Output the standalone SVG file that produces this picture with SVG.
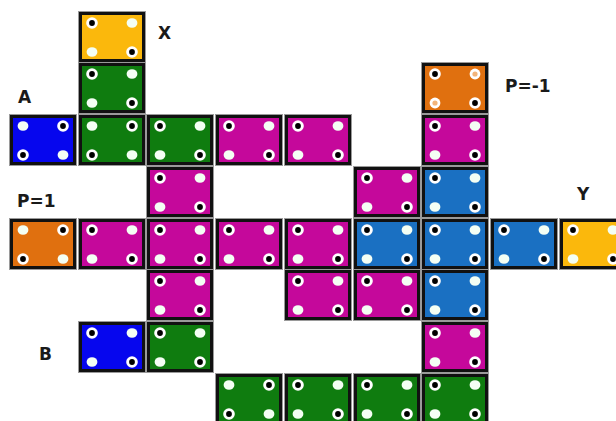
<svg xmlns="http://www.w3.org/2000/svg" xmlns:xlink="http://www.w3.org/1999/xlink" width="616" height="421" viewBox="0 0 616 421">
<style>
.t{stroke:#111;stroke-width:3}
.o{fill:none;stroke:#9a9a9a;stroke-width:1}
.yel{fill:#fbb80c}.grn{fill:#0f7c0f}.blu{fill:#0606ee}.mag{fill:#c5089b}.org{fill:#e0700f}.stl{fill:#1a70c2}
.lbl{font-family:"DejaVu Sans","Liberation Sans",sans-serif;font-weight:bold;font-size:17px;fill:#1a1a1a}
</style>
<defs>
<ellipse id="w" rx="5.4" ry="4.8" fill="#f4fff4"/>
<g id="r"><circle r="5.8" fill="#fff"/><circle r="2.9" fill="#000"/></g>
<g id="p"><circle r="5.4" fill="#fff"/><circle r="2.6" fill="#f2b47a"/></g>
<g id="box"><rect x="-0.5" y="-0.5" width="67" height="51" class="o"/></g>
<g id="D"><use xlink:href="#r" x="13" y="11"/><use xlink:href="#w" x="53" y="11"/><use xlink:href="#w" x="13" y="40"/><use xlink:href="#r" x="53" y="40"/></g>
<g id="A"><use xlink:href="#w" x="13" y="11"/><use xlink:href="#r" x="53" y="11"/><use xlink:href="#r" x="13" y="40"/><use xlink:href="#w" x="53" y="40"/></g>
<g id="O"><use xlink:href="#r" x="13" y="11"/><use xlink:href="#p" x="53" y="11"/><use xlink:href="#p" x="13" y="40"/><use xlink:href="#r" x="53" y="40"/></g>
</defs>
<rect width="616" height="421" fill="#fff"/>
<g id="connectors"></g>
<!-- row 0 -->
<g id="tX" transform="translate(79,12)"><use xlink:href="#box"/><rect x="1.5" y="1.5" width="63" height="47" class="t yel"/><use xlink:href="#D"/></g>
<!-- row 1 -->
<g id="t1_2" transform="translate(79,63)"><use xlink:href="#box"/><rect x="1.5" y="1.5" width="63" height="47" class="t grn"/><use xlink:href="#D"/></g>
<g id="tPm1" transform="translate(422,63)"><use xlink:href="#box"/><rect x="1.5" y="1.5" width="63" height="47" class="t org"/><use xlink:href="#O"/></g>
<!-- row 2 -->
<g id="tA" transform="translate(10,115)"><use xlink:href="#box"/><rect x="1.5" y="1.5" width="63" height="47" class="t blu"/><use xlink:href="#A"/></g>
<g id="t2_2" transform="translate(79,115)"><use xlink:href="#box"/><rect x="1.5" y="1.5" width="63" height="47" class="t grn"/><use xlink:href="#A"/></g>
<g id="t2_3" transform="translate(147,115)"><use xlink:href="#box"/><rect x="1.5" y="1.5" width="63" height="47" class="t grn"/><use xlink:href="#D"/></g>
<g id="t2_4" transform="translate(216,115)"><use xlink:href="#box"/><rect x="1.5" y="1.5" width="63" height="47" class="t mag"/><use xlink:href="#D"/></g>
<g id="t2_5" transform="translate(285,115)"><use xlink:href="#box"/><rect x="1.5" y="1.5" width="63" height="47" class="t mag"/><use xlink:href="#D"/></g>
<g id="t2_7" transform="translate(422,115)"><use xlink:href="#box"/><rect x="1.5" y="1.5" width="63" height="47" class="t mag"/><use xlink:href="#D"/></g>
<!-- row 3 -->
<g id="t3_3" transform="translate(147,167)"><use xlink:href="#box"/><rect x="1.5" y="1.5" width="63" height="47" class="t mag"/><use xlink:href="#D"/></g>
<g id="t3_6" transform="translate(354,167)"><use xlink:href="#box"/><rect x="1.5" y="1.5" width="63" height="47" class="t mag"/><use xlink:href="#D"/></g>
<g id="t3_7" transform="translate(422,167)"><use xlink:href="#box"/><rect x="1.5" y="1.5" width="63" height="47" class="t stl"/><use xlink:href="#D"/></g>
<!-- row 4 -->
<g id="tP1" transform="translate(10,219)"><use xlink:href="#box"/><rect x="1.5" y="1.5" width="63" height="47" class="t org"/><use xlink:href="#A"/></g>
<g id="t4_2" transform="translate(79,219)"><use xlink:href="#box"/><rect x="1.5" y="1.5" width="63" height="47" class="t mag"/><use xlink:href="#D"/></g>
<g id="t4_3" transform="translate(147,219)"><use xlink:href="#box"/><rect x="1.5" y="1.5" width="63" height="47" class="t mag"/><use xlink:href="#D"/></g>
<g id="t4_4" transform="translate(216,219)"><use xlink:href="#box"/><rect x="1.5" y="1.5" width="63" height="47" class="t mag"/><use xlink:href="#D"/></g>
<g id="t4_5" transform="translate(285,219)"><use xlink:href="#box"/><rect x="1.5" y="1.5" width="63" height="47" class="t mag"/><use xlink:href="#D"/></g>
<g id="t4_6" transform="translate(354,219)"><use xlink:href="#box"/><rect x="1.5" y="1.5" width="63" height="47" class="t stl"/><use xlink:href="#D"/></g>
<g id="t4_7" transform="translate(422,219)"><use xlink:href="#box"/><rect x="1.5" y="1.5" width="63" height="47" class="t stl"/><use xlink:href="#D"/></g>
<g id="t4_8" transform="translate(491,219)"><use xlink:href="#box"/><rect x="1.5" y="1.5" width="63" height="47" class="t stl"/><use xlink:href="#D"/></g>
<g id="tY" transform="translate(560,219)"><use xlink:href="#box"/><rect x="1.5" y="1.5" width="63" height="47" class="t yel"/><use xlink:href="#D"/></g>
<!-- row 5 -->
<g id="t5_3" transform="translate(147,270)"><use xlink:href="#box"/><rect x="1.5" y="1.5" width="63" height="47" class="t mag"/><use xlink:href="#D"/></g>
<g id="t5_5" transform="translate(285,270)"><use xlink:href="#box"/><rect x="1.5" y="1.5" width="63" height="47" class="t mag"/><use xlink:href="#D"/></g>
<g id="t5_6" transform="translate(354,270)"><use xlink:href="#box"/><rect x="1.5" y="1.5" width="63" height="47" class="t mag"/><use xlink:href="#D"/></g>
<g id="t5_7" transform="translate(422,270)"><use xlink:href="#box"/><rect x="1.5" y="1.5" width="63" height="47" class="t stl"/><use xlink:href="#D"/></g>
<!-- row 6 -->
<g id="tB" transform="translate(79,322)"><use xlink:href="#box"/><rect x="1.5" y="1.5" width="63" height="47" class="t blu"/><use xlink:href="#D"/></g>
<g id="t6_3" transform="translate(147,322)"><use xlink:href="#box"/><rect x="1.5" y="1.5" width="63" height="47" class="t grn"/><use xlink:href="#D"/></g>
<g id="t6_7" transform="translate(422,322)"><use xlink:href="#box"/><rect x="1.5" y="1.5" width="63" height="47" class="t mag"/><use xlink:href="#D"/></g>
<!-- row 7 -->
<g id="t7_4" transform="translate(216,374)"><use xlink:href="#box"/><rect x="1.5" y="1.5" width="63" height="47" class="t grn"/><use xlink:href="#A"/></g>
<g id="t7_5" transform="translate(285,374)"><use xlink:href="#box"/><rect x="1.5" y="1.5" width="63" height="47" class="t grn"/><use xlink:href="#D"/></g>
<g id="t7_6" transform="translate(354,374)"><use xlink:href="#box"/><rect x="1.5" y="1.5" width="63" height="47" class="t grn"/><use xlink:href="#D"/></g>
<g id="t7_7" transform="translate(422,374)"><use xlink:href="#box"/><rect x="1.5" y="1.5" width="63" height="47" class="t grn"/><use xlink:href="#D"/></g>
<!-- labels -->
<g id="labels">
<text class="lbl" x="158" y="39">X</text>
<text class="lbl" x="18" y="103">A</text>
<text class="lbl" x="505" y="92">P=-1</text>
<text class="lbl" x="17" y="207">P=1</text>
<text class="lbl" x="577" y="200">Y</text>
<text class="lbl" x="39" y="360">B</text>
</g>
</svg>
